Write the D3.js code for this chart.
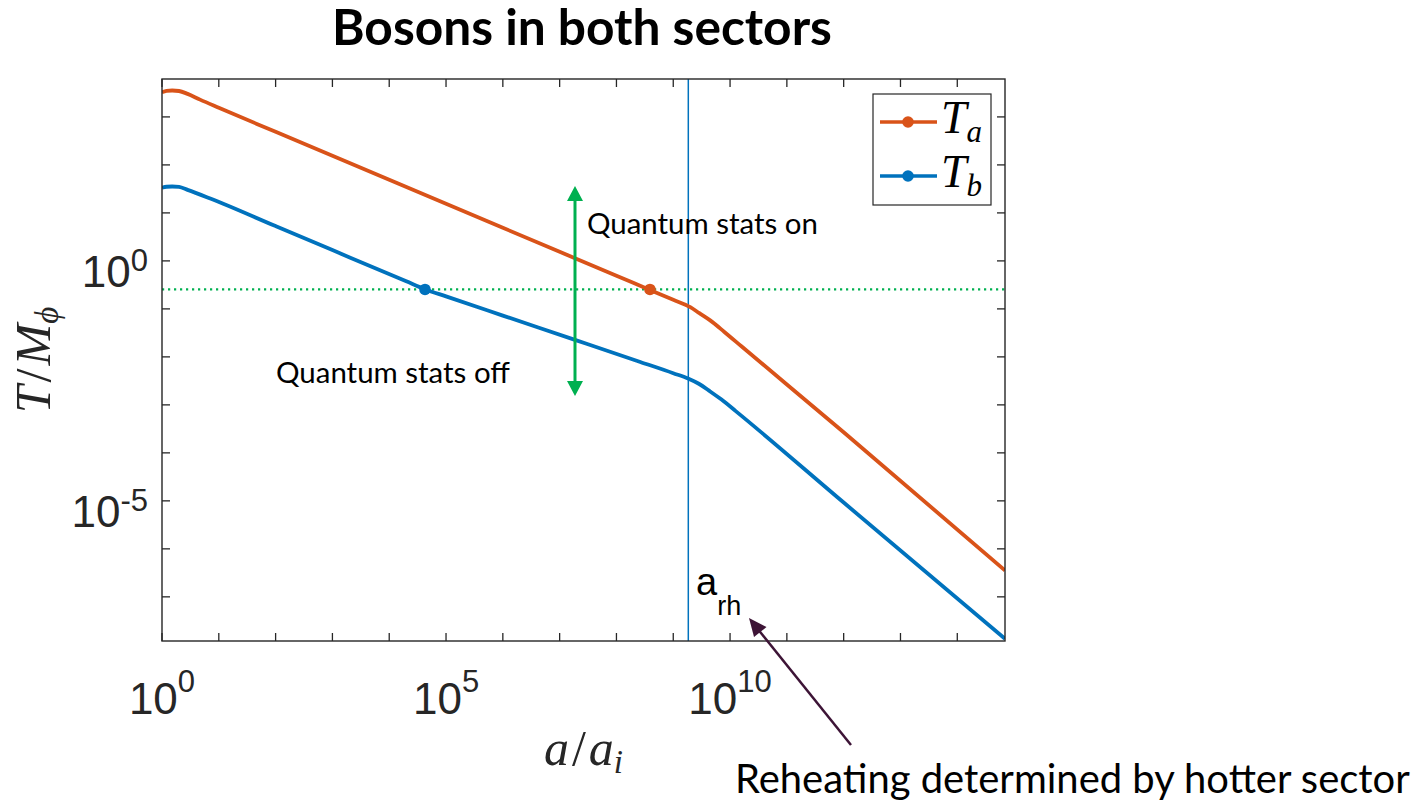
<!DOCTYPE html>
<html>
<head>
<meta charset="utf-8">
<script src="https://cdn.jsdelivr.net/npm/d3@7"></script>
<style>
  html, body { margin: 0; padding: 0; background: #ffffff; }
  svg { display: block; }
</style>
</head>
<body>
<svg id="chart" width="1416" height="805"></svg>
<script>
// ---------------- data (log10 values) ----------------
const taLogA = [0, 0.08, 0.18, 0.3, 0.45, 0.67, 1.0, 2.0, 4.0, 6.0, 8.0, 8.59, 9.0, 9.3, 9.46, 9.65, 9.9, 10.2, 12.0, 14.84];
const taLogT = [3.515, 3.54, 3.55, 3.54, 3.48, 3.36, 3.19, 2.69, 1.69, 0.69, -0.31, -0.605, -0.81, -0.965, -1.09, -1.24, -1.48, -1.78, -3.57, -6.45];

const tbLogA = [0, 0.08, 0.18, 0.3, 0.45, 0.85, 2.0, 3.0, 4.3, 4.63, 5.0, 6.0, 7.27, 8.42, 9.0, 9.26, 9.45, 9.65, 9.85, 10.1, 12.0, 14.84];
const tbLogT = [1.527, 1.545, 1.55, 1.54, 1.48, 1.30, 0.725, 0.225, -0.425, -0.59, -0.74, -1.14, -1.646, -2.106, -2.34, -2.45, -2.56, -2.72, -2.89, -3.13, -5.035, -7.875];

const markerLogA = [8.59, 4.63];     // Ta, Tb crossing points
const thresholdLogT = -0.595;        // dotted green line T/M
const reheatLogA = 9.265;            // a_rh vertical line

const xDomainLog = [0, 14.84];
const yDomainLog = [-7.92, 3.79];
const xTickExps = d3.range(0, 15);
const xLabelExps = [0, 5, 10];
const yTickExps = d3.range(-7, 4);
const yLabelExps = [0, -5];

const seriesNames = ["a", "b"];
const seriesColors = ["#D95319", "#0072BD"];

// ---------------- layout ----------------
const svg = d3.select("#chart");
const L = 162, R = 1005, T = 79, B = 641;

const x = d3.scaleLog().domain(xDomainLog.map(e => 10 ** e)).range([L, R]);
const y = d3.scaleLog().domain(yDomainLog.map(e => 10 ** e)).range([B, T]);

const axisColor = "#262626";
const green = "#00B050";

svg.append("defs").append("clipPath").attr("id", "plotclip")
  .append("rect").attr("x", L).attr("y", T).attr("width", R - L).attr("height", B - T);

const plot = svg.append("g").attr("clip-path", "url(#plotclip)");

// dotted threshold line
plot.append("line")
  .attr("x1", L).attr("x2", R)
  .attr("y1", y(10 ** thresholdLogT)).attr("y2", y(10 ** thresholdLogT))
  .attr("stroke", green).attr("stroke-width", 2.2)
  .attr("stroke-dasharray", "2.2,3.8");

// vertical reheating line
plot.append("line")
  .attr("x1", x(10 ** reheatLogA)).attr("x2", x(10 ** reheatLogA))
  .attr("y1", T).attr("y2", B)
  .attr("stroke", "#0072BD").attr("stroke-width", 1.5);

// curves
const line = d3.line()
  .x(d => x(10 ** d[0]))
  .y(d => y(10 ** d[1]))
  .curve(d3.curveMonotoneX);

const seriesData = [
  d3.zip(taLogA, taLogT),
  d3.zip(tbLogA, tbLogT)
];

seriesData.forEach((pts, i) => {
  plot.append("path")
    .attr("d", line(pts))
    .attr("fill", "none")
    .attr("stroke", seriesColors[i])
    .attr("stroke-width", 3.8)
    .attr("stroke-linejoin", "round");
});

markerLogA.forEach((e, i) => {
  plot.append("circle")
    .attr("cx", x(10 ** e)).attr("cy", y(10 ** thresholdLogT))
    .attr("r", 5.8).attr("fill", seriesColors[i]);
});

// ---------------- axes box + ticks ----------------
const axes = svg.append("g");
axes.append("rect")
  .attr("x", L).attr("y", T).attr("width", R - L).attr("height", B - T)
  .attr("fill", "none").attr("stroke", axisColor).attr("stroke-width", 1.4);

const tickLen = 8;
xTickExps.forEach(e => {
  const xv = x(10 ** e);
  axes.append("line").attr("x1", xv).attr("x2", xv).attr("y1", B).attr("y2", B - tickLen)
    .attr("stroke", axisColor).attr("stroke-width", 1.3);
  axes.append("line").attr("x1", xv).attr("x2", xv).attr("y1", T).attr("y2", T + tickLen)
    .attr("stroke", axisColor).attr("stroke-width", 1.3);
});
yTickExps.forEach(e => {
  const yv = y(10 ** e);
  axes.append("line").attr("x1", L).attr("x2", L + tickLen).attr("y1", yv).attr("y2", yv)
    .attr("stroke", axisColor).attr("stroke-width", 1.3);
  axes.append("line").attr("x1", R).attr("x2", R - tickLen).attr("y1", yv).attr("y2", yv)
    .attr("stroke", axisColor).attr("stroke-width", 1.3);
});

const tickFont = "'Liberation Sans', Arial, Helvetica, sans-serif";
xLabelExps.forEach(e => {
  const t = axes.append("text")
    .attr("x", x(10 ** e)).attr("y", 714)
    .attr("text-anchor", "middle")
    .attr("font-family", tickFont).attr("font-size", 44).attr("fill", axisColor);
  t.append("tspan").text("10");
  t.append("tspan").attr("font-size", 31).attr("dy", -22).text(String(e));
});
yLabelExps.forEach(e => {
  const yv = y(10 ** e);
  const t = axes.append("text")
    .attr("x", 148).attr("y", yv + 26)
    .attr("text-anchor", "end")
    .attr("font-family", tickFont).attr("font-size", 44).attr("fill", axisColor);
  t.append("tspan").text("10");
  t.append("tspan").attr("font-size", 31).attr("dy", -16).text(String(e));
});

// axis labels (LaTeX-like italic serif)
const mathFont = "'Liberation Serif', 'DejaVu Serif', serif";
const xl = svg.append("text")
  .attr("x", (L + R) / 2).attr("y", 765)
  .attr("text-anchor", "middle")
  .attr("font-family", mathFont).attr("font-style", "italic")
  .attr("font-size", 50).attr("fill", axisColor);
xl.append("tspan").text("a");
xl.append("tspan").attr("font-style", "normal").attr("dx", 3).text("/");
xl.append("tspan").attr("dx", 3).text("a");
xl.append("tspan").attr("font-size", 33).attr("dy", 8).text("i");

const yl = svg.append("text")
  .attr("transform", `translate(50, ${(T + B) / 2}) rotate(-90)`)
  .attr("text-anchor", "middle")
  .attr("font-family", mathFont).attr("font-style", "italic")
  .attr("font-size", 50).attr("fill", axisColor);
yl.append("tspan").text("T");
yl.append("tspan").attr("font-style", "normal").attr("dx", 3).text("/");
yl.append("tspan").attr("dx", 3).text("M");
yl.append("tspan").attr("font-size", 33).attr("dy", 8).text("\u03D5");

// ---------------- legend ----------------
const lg = svg.append("g");
lg.append("rect").attr("x", 873).attr("y", 94).attr("width", 118).attr("height", 111)
  .attr("fill", "#ffffff").attr("stroke", axisColor).attr("stroke-width", 1.2);
const legendY = [122, 176];
seriesNames.forEach((n, i) => {
  lg.append("line").attr("x1", 880).attr("x2", 937).attr("y1", legendY[i]).attr("y2", legendY[i])
    .attr("stroke", seriesColors[i]).attr("stroke-width", 3.6);
  lg.append("circle").attr("cx", 908).attr("cy", legendY[i]).attr("r", 5.8).attr("fill", seriesColors[i]);
  const t = lg.append("text").attr("x", 941).attr("y", legendY[i] + 11)
    .attr("font-family", mathFont).attr("font-style", "italic")
    .attr("font-size", 46).attr("fill", "#000");
  t.append("tspan").text("T");
  t.append("tspan").attr("font-size", 31).attr("dy", 9).text(n);
});

// ---------------- annotations ----------------
const annoFont = "Lato, 'Open Sans', sans-serif";
function fitText(sel, target) {
  const w = sel.node().getComputedTextLength();
  const fs = parseFloat(sel.attr("font-size"));
  sel.attr("font-size", fs * target / w);
}

const title = svg.append("text").attr("x", 332).attr("y", 45)
  .attr("font-family", annoFont).attr("font-weight", 700)
  .attr("font-size", 38).attr("fill", "#000").text("Bosons in both sectors");
fitText(title, 500);

const qOn = svg.append("text").attr("x", 587).attr("y", 234)
  .attr("font-family", annoFont).attr("font-size", 24).attr("fill", "#000").text("Quantum stats on");
fitText(qOn, 231);
const qOff = svg.append("text").attr("x", 276).attr("y", 383)
  .attr("font-family", annoFont).attr("font-size", 24).attr("fill", "#000").text("Quantum stats off");
fitText(qOff, 234);
const reh = svg.append("text").attr("x", 735).attr("y", 793)
  .attr("font-family", annoFont).attr("font-size", 34).attr("fill", "#000").text("Reheating determined by hotter sector");
fitText(reh, 675);

const arh = svg.append("text").attr("x", 696).attr("y", 595)
  .attr("font-family", tickFont).attr("font-size", 38).attr("fill", "#000");
arh.append("tspan").text("a");
arh.append("tspan").attr("font-size", 27).attr("dy", 20).text("rh");

function arrowHead(g, tipX, tipY, fromX, fromY, len, half, color) {
  const ang = Math.atan2(tipY - fromY, tipX - fromX);
  const bx = tipX - len * Math.cos(ang), by = tipY - len * Math.sin(ang);
  const px = -Math.sin(ang) * half, py = Math.cos(ang) * half;
  g.append("path")
    .attr("d", `M${tipX},${tipY} L${bx + px},${by + py} L${bx - px},${by - py} Z`)
    .attr("fill", color);
}
const ga = svg.append("g");
ga.append("line").attr("x1", 575).attr("x2", 575).attr("y1", 198).attr("y2", 384)
  .attr("stroke", green).attr("stroke-width", 3);
arrowHead(ga, 575, 186, 575, 300, 15, 8, green);
arrowHead(ga, 575, 396, 575, 300, 15, 8, green);

const purple = "#3D1436";
const pa = svg.append("g");
const tip = [749, 618], tail = [851, 745];
const ang = Math.atan2(tip[1] - tail[1], tip[0] - tail[0]);
pa.append("line").attr("x1", tail[0]).attr("y1", tail[1])
  .attr("x2", tip[0] - 14 * Math.cos(ang)).attr("y2", tip[1] - 14 * Math.sin(ang))
  .attr("stroke", purple).attr("stroke-width", 2.5);
arrowHead(pa, tip[0], tip[1], tail[0], tail[1], 18, 8, purple);
</script>
</body>
</html>
